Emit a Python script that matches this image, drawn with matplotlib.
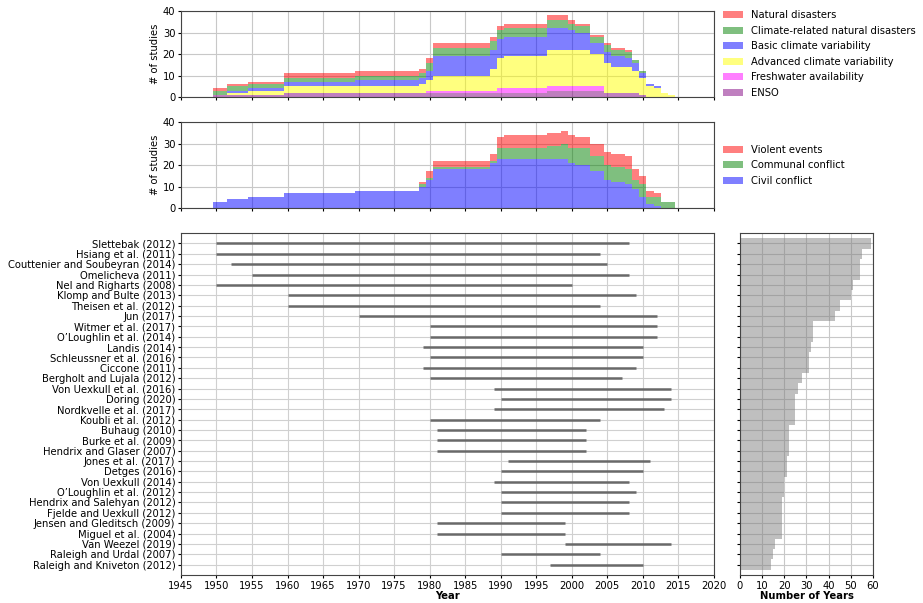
import matplotlib
matplotlib.use("Agg")
import matplotlib.pyplot as plt
import matplotlib.patches as mpatches
import numpy as np

plt.rcParams["font.size"] = 7.2
plt.rcParams["axes.linewidth"] = 0.8
plt.rcParams["axes.edgecolor"] = "#444444"
plt.rcParams["xtick.major.size"] = 2.5
plt.rcParams["ytick.major.size"] = 2.5
plt.rcParams["xtick.major.pad"] = 1.5
plt.rcParams["ytick.major.pad"] = 1.5

# studies, top row first
studies = [
    "Slettebak (2012)", "Hsiang et al. (2011)", "Couttenier and Soubeyran (2014)",
    "Omelicheva (2011)", "Nel and Righarts (2008)", "Klomp and Bulte (2013)",
    "Theisen et al. (2012)", "Jun (2017)", "Witmer et al. (2017)",
    "O\u2019Loughlin et al. (2014)", "Landis (2014)", "Schleussner et al. (2016)",
    "Ciccone (2011)", "Bergholt and Lujala (2012)", "Von Uexkull et al. (2016)",
    "Doring (2020)", "Nordkvelle et al. (2017)", "Koubli et al. (2012)",
    "Buhaug (2010)", "Burke et al. (2009)", "Hendrix and Glaser (2007)",
    "Jones et al. (2017)", "Detges (2016)", "Von Uexkull (2014)",
    "O\u2019Loughlin et al. (2012)", "Hendrix and Salehyan (2012)",
    "Fjelde and Uexkull (2012)", "Jensen and Gleditsch (2009)",
    "Miguel et al. (2004)", "Van Weezel (2019)", "Raleigh and Urdal (2007)",
    "Raleigh and Kniveton (2012)",
]
start_year = [1950, 1950, 1952, 1955, 1950, 1960, 1960, 1970, 1980, 1980, 1979,
              1980, 1979, 1980, 1989, 1990, 1989, 1980, 1981, 1981, 1981, 1991,
              1990, 1989, 1990, 1990, 1990, 1981, 1981, 1999, 1990, 1997]
end_year = [2008, 2004, 2005, 2008, 2000, 2009, 2004, 2012, 2012, 2012, 2010,
            2010, 2009, 2007, 2014, 2014, 2013, 2004, 2002, 2002, 2002, 2011,
            2010, 2008, 2009, 2008, 2008, 1999, 1999, 2014, 2004, 2010]

# yearly study counts, given as constant segments starting at these years
seg_start = [1950, 1952, 1955, 1960, 1970, 1979, 1980, 1981, 1989, 1990, 1991,
             1997, 1999, 2000, 2001, 2003, 2005, 2006, 2008, 2009, 2010, 2011,
             2012, 2013, 2014]
seg_end = 2015

# climate variables (stack order bottom -> top)
enso = [1, 1, 1, 2, 2, 2, 2, 2, 2, 2, 2, 3, 3, 3, 3, 3, 2, 2, 2, 2, 1, 0, 0, 0, 0]
freshwater = [0, 0, 0, 0, 0, 0, 1, 1, 1, 2, 2, 2, 2, 2, 2, 2, 0, 0, 0, 0, 0, 0, 0, 0, 0]
advanced = [0, 1, 2, 3, 3, 4, 5, 7, 10, 14, 15, 17, 17, 17, 17, 15, 14, 12, 12, 10, 8, 5, 4, 2, 1]
basic = [0, 1, 1, 2, 3, 3, 4, 9, 9, 9, 9, 10, 10, 9, 8, 5, 5, 5, 4, 4, 2, 1, 1, 0, 0]
climate_disasters = [2, 2, 2, 2, 2, 2, 4, 4, 4, 4, 4, 4, 4, 3, 3, 3, 3, 3, 3, 1, 1, 0, 0, 0, 0]
natural_disasters = [1, 1, 1, 2, 2, 2, 2, 2, 2, 2, 2, 2, 2, 2, 1, 1, 1, 1, 1, 0, 0, 0, 0, 0, 0]

# conflict variables (stack order bottom -> top)
civil = [3, 4, 5, 7, 8, 10, 13, 18, 21, 23, 23, 23, 23, 21, 20, 17, 13, 12, 11, 9, 5, 2, 1, 0, 0]
communal = [0, 0, 0, 0, 0, 1, 1, 1, 1, 5, 5, 6, 7, 7, 8, 7, 7, 7, 7, 4, 6, 3, 4, 3, 3]
violent = [0, 0, 0, 0, 0, 1, 3, 3, 3, 5, 6, 6, 6, 6, 5, 6, 6, 6, 6, 5, 4, 3, 2, 0, 0]


def yearly(vals):
    lens = np.diff(seg_start + [seg_end])
    v = np.repeat(vals, lens)
    return np.concatenate([[0], v, [0]])


years = np.arange(seg_start[0] - 1, seg_end + 1)


def stack(ax, layers, colors):
    bottom = np.zeros(len(years))
    for vals, c in zip(layers, colors):
        top = bottom + yearly(vals)
        ax.fill_between(years, bottom, top, step="mid", color=c, alpha=0.5, lw=0)
        bottom = top


def style_top(ax):
    ax.set_xlim(1945, 2020)
    ax.set_ylim(0, 40)
    ax.set_xticks(np.arange(1945, 2021, 5))
    ax.set_xticklabels([])
    ax.set_yticks([0, 10, 20, 30, 40])
    ax.set_ylabel("# of studies", labelpad=2)
    ax.grid(True, color="#c8c8c8", lw=0.8)
    ax.set_axisbelow(True)


fig = plt.figure(figsize=(9.23, 6.03), dpi=100)
ax1 = fig.add_axes([0.196, 0.8391, 0.5775, 0.1426])
ax2 = fig.add_axes([0.196, 0.655, 0.5775, 0.1426])
ax3 = fig.add_axes([0.196, 0.0464, 0.5775, 0.567])
ax4 = fig.add_axes([0.8017, 0.0464, 0.1441, 0.567])

clim_layers = [enso, freshwater, advanced, basic, climate_disasters, natural_disasters]
clim_colors = ["purple", "magenta", "yellow", "blue", "green", "red"]
clim_names = ["ENSO", "Freshwater availability", "Advanced climate variability",
              "Basic climate variability", "Climate-related natural disasters",
              "Natural disasters"]
stack(ax1, clim_layers, clim_colors)
style_top(ax1)
handles = [mpatches.Patch(color=c, alpha=0.5, lw=0) for c in clim_colors][::-1]
ax1.legend(handles, clim_names[::-1], loc="center left", bbox_to_anchor=(1.0, 0.5),
           frameon=False, labelspacing=0.55)

conf_layers = [civil, communal, violent]
conf_colors = ["blue", "green", "red"]
conf_names = ["Civil conflict", "Communal conflict", "Violent events"]
stack(ax2, conf_layers, conf_colors)
style_top(ax2)
handles = [mpatches.Patch(color=c, alpha=0.5, lw=0) for c in conf_colors][::-1]
ax2.legend(handles, conf_names[::-1], loc="center left", bbox_to_anchor=(1.0, 0.5),
           frameon=False, labelspacing=0.55)

# study periods
rows = np.arange(len(studies))
ax3.hlines(rows, start_year, end_year, color="dimgray", lw=1.8)
ax3.set_yticks(rows)
ax3.set_yticklabels(studies)
ax3.set_ylim(len(studies), -1)
ax3.set_xlim(1945, 2020)
ax3.set_xticks(np.arange(1945, 2021, 5))
ax3.set_xlabel("Year", fontweight="bold", labelpad=0.5)
ax3.grid(True, color="#d0d0d0", lw=0.8)
ax3.set_axisbelow(True)

# number of years per study
n_years = np.array(end_year) - np.array(start_year) + 1
ax4.barh(rows, n_years, height=1.0, color="grey", alpha=0.5, lw=0)
ax4.set_yticks(rows)
ax4.set_yticklabels([])
ax4.set_ylim(len(studies), -1)
ax4.set_xlim(0, 60)
ax4.set_xticks(np.arange(0, 61, 10))
ax4.set_xlabel("Number of Years", fontweight="bold", labelpad=0.5)
ax4.grid(True, color="#c8c8c8", lw=0.8)
ax4.set_axisbelow(True)

fig.savefig("out.png", dpi=100)
